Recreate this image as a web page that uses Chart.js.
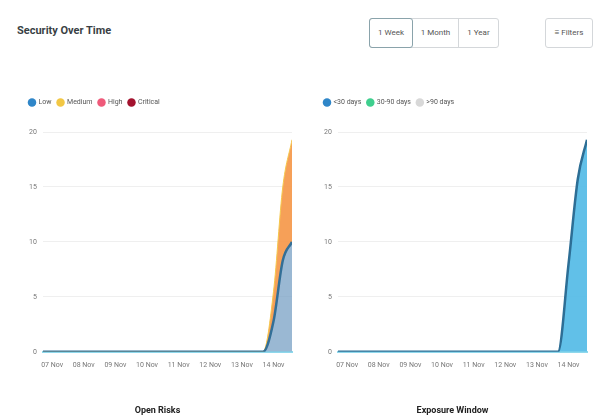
<!DOCTYPE html>
<html>
<head>
<meta charset="utf-8">
<script src="https://cdn.jsdelivr.net/npm/chart.js@4"></script>
<style>
  html, body { margin: 0; padding: 0; background: #fff; }
  body { width: 595px; height: 419px; position: relative; overflow: hidden; font-family: Roboto, "Liberation Sans", sans-serif; }
  .title { position: absolute; left: 17px; top: 24px; font-size: 11px; font-weight: 700; color: #3a3f45; }
  .group { position: absolute; left: 369px; top: 18px; height: 30px; display: flex; border: 1px solid #d4d7da; border-radius: 3px; box-sizing: border-box; }
  .group div { font-size: 8px; color: #555; line-height: 28px; text-align: center; box-sizing: border-box; }
  .group .b1 { width: 44px; border: 1px solid #8aa3ab; border-radius: 3px; margin: -1px 0 -1px -1px; line-height: 28px; }
  .group .b2 { width: 46px; border-right: 1px solid #d4d7da; }
  .group .b3 { width: 39px; }
  .filters { position: absolute; left: 545px; top: 18px; width: 48px; height: 30px; border: 1px solid #d4d7da; border-radius: 3px; box-sizing: border-box; font-size: 8px; color: #555; line-height: 28px; text-align: center; }
  .box { position: absolute; top: 88px; height: 331px; }
  #left { left: 15px; width: 285px; }
  #right { left: 310px; width: 285px; }
</style>
</head>
<body>
<div class="title">Security Over Time</div>
<div class="group"><div class="b1">1 Week</div><div class="b2">1 Month</div><div class="b3">1 Year</div></div>
<div class="filters">&#8801; Filters</div>
<div class="box" id="left"><canvas id="c1"></canvas></div>
<div class="box" id="right"><canvas id="c2"></canvas></div>
<script>
// ---- data ----
const xLabels = ["07 Nov", "08 Nov", "09 Nov", "10 Nov", "11 Nov", "12 Nov", "13 Nov", "14 Nov"];
const hours = [-7, 160, 168, 175, 182];          // hours since 07 Nov 00:00
const lowValues = [0, 0, 2.8, 8.3, 10];
const mediumValues = [0, 0, 2.7, 6.7, 9.3];
const highValues = [0, 0, 0, 0, 0];
const criticalValues = [0, 0, 0, 0, 0];
const under30Values = [0, 0, 8, 15.7, 19.3];
const mid30to90Values = [0, 0, 0, 0, 0];
const over90Values = [0, 0, 0, 0, 0];
const yTicks = [0, 5, 10, 15, 20];

const pts = vals => vals.map((v, i) => ({ x: hours[i], y: v }));

const legendSpace = {
  id: 'legendSpace',
  beforeInit(chart) {
    const orig = chart.legend.fit;
    chart.legend.fit = function () { orig.call(this); this.height += 16; };
  }
};

function makeOptions(titleText) {
  return {
    responsive: true,
    maintainAspectRatio: false,
    animation: false,
    layout: { padding: { left: 8, right: 8, top: 5, bottom: 0 } },
    elements: { point: { radius: 0 }, line: { tension: 0.4, cubicInterpolationMode: 'monotone' } },
    plugins: {
      legend: {
        position: 'top', align: 'start',
        labels: {
          usePointStyle: true, pointStyle: 'circle', boxWidth: 6, boxHeight: 6, padding: 6, color: '#555', font: { size: 7, family: 'Roboto' },
          generateLabels(chart) {
            return chart.data.datasets.map((ds, i) => ({
              text: ds.label, fillStyle: ds.pointBackgroundColor, strokeStyle: ds.pointBackgroundColor,
              lineWidth: 0, pointStyle: 'circle', hidden: false, datasetIndex: i, fontColor: '#555'
            }));
          }
        }
      },
      title: {
        display: true, position: 'bottom', text: titleText, color: '#222',
        font: { size: 9, weight: 'bold', family: 'Roboto' }, padding: { top: 27, bottom: 3 }
      },
      tooltip: { enabled: false }
    },
    scales: {
      x: {
        type: 'linear', min: hours[0], max: hours[hours.length - 1],
        afterBuildTicks: s => { s.ticks = xLabels.map((l, i) => ({ value: i * 24 })); },
        ticks: { callback: v => xLabels[Math.round(v / 24)], color: '#777', font: { size: 7, family: 'Roboto' }, padding: 9, maxRotation: 0, autoSkip: false },
        grid: { display: false, drawTicks: false },
        border: { display: true, color: '#8fd8ec', width: 2 }
      },
      y: {
        stacked: true, min: 0, max: 20,
        afterBuildTicks: s => { s.ticks = yTicks.map(v => ({ value: v })); },
        ticks: { color: '#777', font: { size: 7, family: 'Roboto' }, padding: 6 },
        grid: { color: '#efefef', drawTicks: false },
        border: { display: false }
      }
    }
  };
}

new Chart(document.getElementById('c1'), {
  type: 'line',
  data: {
    datasets: [
      { label: 'Low', data: pts(lowValues), borderColor: '#336f97', backgroundColor: 'rgba(120,160,196,0.75)', borderWidth: 2.5, fill: 'origin', pointBackgroundColor: '#2f86c8' },
      { label: 'Medium', data: pts(mediumValues), borderColor: '#f5c84c', backgroundColor: 'rgba(245,150,70,0.9)', borderWidth: 1, fill: '-1', pointBackgroundColor: '#f2c744' },
      { label: 'High', data: pts(highValues), borderColor: 'rgba(0,0,0,0)', backgroundColor: '#ef5a7a', borderWidth: 0, fill: false, pointBackgroundColor: '#ef5a7a' },
      { label: 'Critical', data: pts(criticalValues), borderColor: 'rgba(0,0,0,0)', backgroundColor: '#a3122e', borderWidth: 0, fill: false, pointBackgroundColor: '#a3122e' }
    ]
  },
  options: makeOptions('Open Risks'),
  plugins: [legendSpace]
});

new Chart(document.getElementById('c2'), {
  type: 'line',
  data: {
    datasets: [
      { label: '<30 days', data: pts(under30Values), borderColor: '#2d6e95', backgroundColor: 'rgba(80,185,230,0.9)', borderWidth: 2.5, fill: 'origin', pointBackgroundColor: '#2f86c8' },
      { label: '30-90 days', data: pts(mid30to90Values), borderColor: 'rgba(0,0,0,0)', backgroundColor: '#3fcf8e', borderWidth: 0, fill: false, pointBackgroundColor: '#3fcf8e' },
      { label: '>90 days', data: pts(over90Values), borderColor: 'rgba(0,0,0,0)', backgroundColor: '#d8d8d8', borderWidth: 0, fill: false, pointBackgroundColor: '#d8d8d8' }
    ]
  },
  options: makeOptions('Exposure Window'),
  plugins: [legendSpace]
});
</script>
</body>
</html>
